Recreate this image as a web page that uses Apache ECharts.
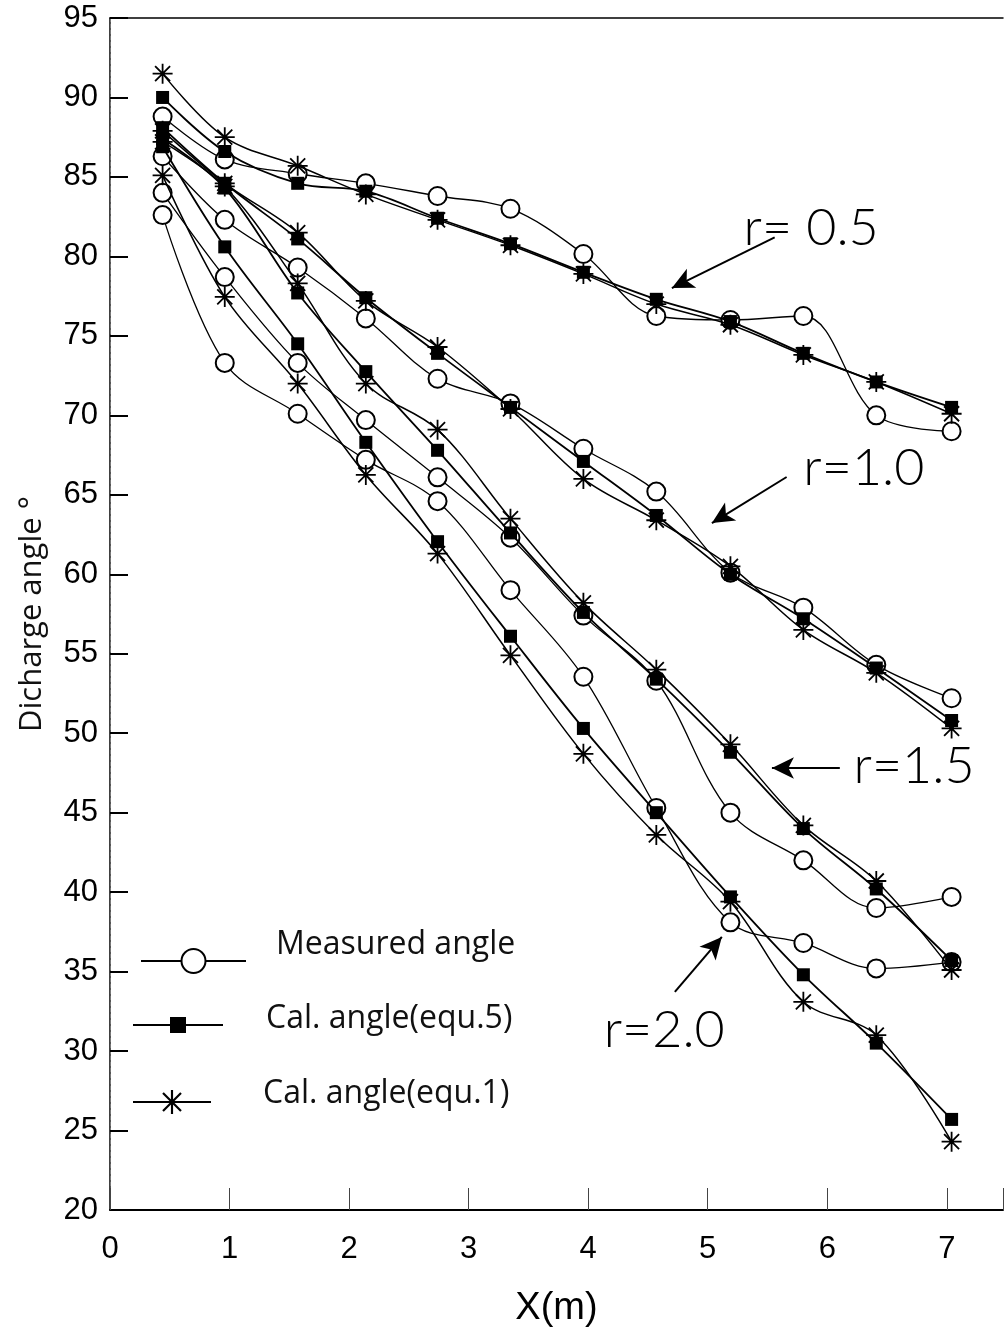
<!DOCTYPE html>
<html>
<head>
<meta charset="utf-8">
<title>Discharge angle along X</title>
<script src="https://cdn.jsdelivr.net/npm/echarts@6/dist/echarts.min.js"></script>
<style>
  html, body { margin: 0; padding: 0; background: #fff; }
  #chart { width: 1005px; height: 1337px; }
</style>
</head>
<body>
<div id="chart"></div>
<script>
// Measuring stations along the channel, X (m)
const xPos = [0.44, 0.96, 1.57, 2.14, 2.74, 3.35, 3.96, 4.57, 5.19, 5.80, 6.41, 7.04];

// r = 0.5
const r05Measured = [88.8, 86.1, 85.2, 84.6, 83.8, 83.0, 80.15, 76.25, 76.0, 76.25, 70.0, 69.0];
const r05Equ5     = [90.0, 86.6, 84.6, 84.1, 82.4, 80.8, 79.0, 77.3, 75.9, 73.9, 72.1, 70.5];
const r05Equ1     = [91.5, 87.5, 85.7, 83.9, 82.3, 80.7, 78.9, 77.0, 75.7, 73.8, 72.1, 70.1];

// r = 1.0
const r10Measured = [86.3, 82.3, 79.3, 76.1, 72.3, 70.75, 67.9, 65.2, 60.1, 57.9, 54.3, 52.2];
const r10Equ5     = [88.1, 84.6, 81.1, 77.4, 73.9, 70.5, 67.1, 63.7, 60.0, 57.2, 54.1, 50.8];
const r10Equ1     = [87.9, 84.6, 81.5, 77.2, 74.3, 70.4, 66.0, 63.4, 60.5, 56.5, 53.8, 50.3];

// r = 1.5
const r15Measured = [84.0, 78.7, 73.3, 69.7, 66.1, 62.3, 57.4, 53.3, 45.0, 42.0, 39.0, 39.7];
const r15Equ5     = [87.4, 84.3, 77.7, 72.75, 67.8, 62.6, 57.6, 53.4, 48.8, 44.0, 40.2, 35.7];
const r15Equ1     = [87.2, 84.4, 78.3, 72.0, 69.1, 63.5, 58.2, 54.0, 49.3, 44.2, 40.7, 35.1];

// r = 2.0
const r20Measured = [82.6, 73.3, 70.1, 67.2, 64.6, 59.0, 53.55, 45.3, 38.1, 36.8, 35.2, 35.6];
const r20Equ5     = [86.9, 80.6, 74.5, 68.3, 62.05, 56.1, 50.3, 45.0, 39.7, 34.8, 30.5, 25.7];
const r20Equ1     = [85.1, 77.45, 72.0, 66.25, 61.3, 54.9, 48.7, 43.6, 39.4, 33.1, 31.0, 24.3];

const yTicks = [20, 25, 30, 35, 40, 45, 50, 55, 60, 65, 70, 75, 80, 85, 90, 95];
const xTicks = [0, 1, 2, 3, 4, 5, 6, 7];

const NAME_MEAS = 'Measured angle';
const NAME_EQ5 = 'Cal. angle(equ.5)';
const NAME_EQ1 = 'Cal. angle(equ.1)';

// eight-spoke asterisk marker
const STAR = 'path://M0 9.1L20 9.1L20 10.9L0 10.9Z M9.1 0L10.9 0L10.9 20L9.1 20Z ' +
  'M3.14 1.86L18.14 16.86L16.86 18.14L1.86 3.14Z M18.14 3.14L3.14 18.14L1.86 16.86L16.86 1.86Z';

const pairs = vals => vals.map((v, i) => [xPos[i], v]);

function measured(vals) {
  return {
    name: NAME_MEAS, type: 'line', data: pairs(vals), smooth: 0.35, z: 2,
    symbol: 'circle', symbolSize: 18,
    itemStyle: { color: '#fff', borderColor: '#000', borderWidth: 2 },
    lineStyle: { color: '#000', width: 1.3 }
  };
}
function equ5(vals) {
  return {
    name: NAME_EQ5, type: 'line', data: pairs(vals), smooth: 0.35, z: 3,
    symbol: 'rect', symbolSize: 13,
    itemStyle: { color: '#000' },
    lineStyle: { color: '#000', width: 1.8 }
  };
}
function equ1(vals) {
  return {
    name: NAME_EQ1, type: 'line', data: pairs(vals), smooth: 0.35, z: 3,
    symbol: STAR, symbolSize: 20,
    itemStyle: { color: '#000' },
    lineStyle: { color: '#000', width: 1.5 }
  };
}

// curve labels with their pointer arrows (data coordinates)
const curveNotes = [
  { text: 'r= 0.5', at: [5.30, 81.8], from: [5.56, 81.2], to: [4.70, 78.01] },
  { text: 'r=1.0', at: [5.80, 66.7], from: [5.66, 66.12], to: [5.035, 63.22] },
  { text: 'r=1.5', at: [6.22, 47.94], from: [6.105, 47.81], to: [5.537, 47.81] },
  { text: 'r=2.0', at: [4.13, 31.32], from: [4.725, 33.72], to: [5.118, 37.18] }
];

const noteSeries = {
  type: 'line', data: [], silent: true, z: 5,
  markLine: {
    silent: true, symbol: ['none', 'arrow'], symbolSize: [16, 22],
    lineStyle: { color: '#000', width: 2, type: 'solid' },
    label: { show: false },
    data: curveNotes.map(n => [{ coord: n.from }, { coord: n.to }])
  },
  markPoint: {
    silent: true, symbol: 'circle', symbolSize: 0,
    label: {
      show: true, position: 'right', distance: 0, color: '#000',
      fontFamily: 'Lato', fontWeight: 300, fontSize: 52
    },
    data: curveNotes.map(n => ({ coord: n.at, label: { formatter: n.text } }))
  }
};

const legendFont = { fontFamily: 'Open Sans', fontWeight: 'normal', fontSize: 32, color: '#111' };
function legendBox(name, left, top, w, h, padL, padB) {
  return {
    data: [name], left: left, top: top, padding: 0, orient: 'horizontal',
    itemWidth: w, itemHeight: h, selectedMode: false,
    formatter: '{t|{name}}',
    textStyle: { rich: { t: Object.assign({ padding: [0, 0, padB, padL] }, legendFont) } }
  };
}

const axisFont = { fontFamily: 'Liberation Sans', fontSize: 31, color: '#000' };

const option = {
  animation: false,
  backgroundColor: '#fff',
  grid: { left: 110, top: 18, right: 2, bottom: 127, containLabel: false, outerBoundsMode: 'none' },
  legend: [
    legendBox(NAME_MEAS, 140, 929, 105, 30, 25, 32),
    legendBox(NAME_EQ5, 132, 1003, 90, 20, 38, 12),
    legendBox(NAME_EQ1, 132, 1078, 78, 30, 47, 16)
  ],
  xAxis: [{
    type: 'value', min: 0, max: 7.47, interval: 1,
    name: 'X(m)', nameLocation: 'middle', nameGap: 80,
    nameTextStyle: { fontFamily: 'Liberation Sans Narrow, Liberation Sans', fontSize: 38, color: '#000' },
    axisLine: { lineStyle: { color: '#000', width: 2 } },
    axisTick: { inside: true, length: 22, lineStyle: { color: '#444', width: 1 } },
    axisLabel: {
      margin: 24, ...axisFont,
      formatter: v => (xTicks.indexOf(v) >= 0 ? String(v) : '')
    },
    splitLine: { show: false }
  }, {
    type: 'value', position: 'top', min: 0, max: 7.47,
    axisLine: { show: true, lineStyle: { color: '#000', width: 1.5 } },
    axisTick: { show: false }, axisLabel: { show: false }, splitLine: { show: false }
  }],
  yAxis: [{
    type: 'value', min: 20, max: 95, interval: 5,
    name: 'Dicharge angle °', nameLocation: 'middle', nameGap: 62, nameRotate: 90,
    nameTextStyle: { fontFamily: 'Open Sans', fontSize: 31, color: '#111' },
    axisLine: { show: true, lineStyle: { color: '#000', width: 1.5 } },
    axisTick: { inside: true, length: 18, lineStyle: { color: '#000', width: 2 } },
    axisLabel: {
      margin: 12, ...axisFont,
      formatter: v => (yTicks.indexOf(v) >= 0 ? String(v) : '')
    },
    splitLine: { show: false }
  }, {
    type: 'value', position: 'right', min: 20, max: 95,
    axisLine: { show: true, lineStyle: { color: '#777', width: 1, type: 'dashed' } },
    axisTick: { show: false }, axisLabel: { show: false }, splitLine: { show: false }
  }],
  series: [
    measured(r05Measured), measured(r10Measured), measured(r15Measured), measured(r20Measured),
    equ5(r05Equ5), equ5(r10Equ5), equ5(r15Equ5), equ5(r20Equ5),
    equ1(r05Equ1), equ1(r10Equ1), equ1(r15Equ1), equ1(r20Equ1),
    noteSeries
  ]
};

const chart = echarts.init(document.getElementById('chart'), null, { renderer: 'canvas' });
chart.setOption(option);
</script>
</body>
</html>
